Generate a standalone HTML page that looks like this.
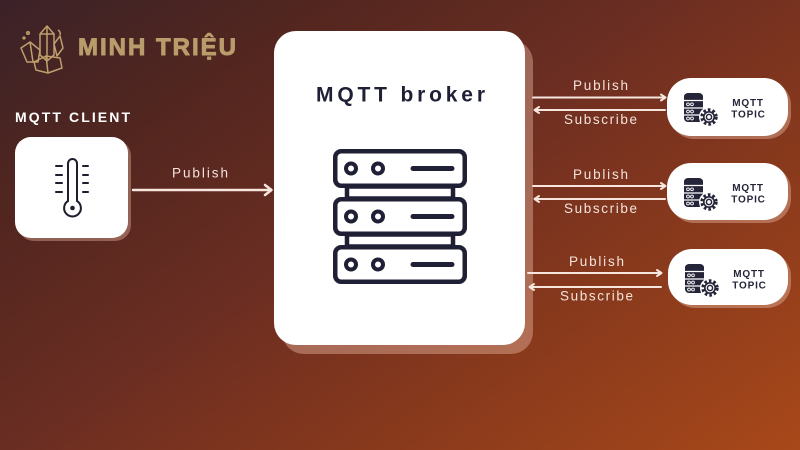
<!DOCTYPE html>
<html>
<head>
<meta charset="utf-8">
<style>
  html,body{margin:0;padding:0;}
  body{width:800px;height:450px;overflow:hidden;
    background:linear-gradient(145deg,#3b2228 0%,#52261f 22%,#6a2d22 45%,#78321f 56%,#8a3a1c 72%,#a8481a 100%);}
  svg{position:absolute;left:0;top:0;}
  text{font-family:"Liberation Sans",sans-serif;}
</style>
</head>
<body>
<svg width="800" height="450" viewBox="0 0 800 450" xmlns="http://www.w3.org/2000/svg">
  <!-- Logo -->
  <g fill="none" stroke="#bf9f6c" stroke-width="1.5" stroke-linejoin="round">
    <polygon points="40,34 47,26 54,34 54,55 47,61 40,55"/>
    <line x1="47" y1="26" x2="47" y2="61"/>
    <line x1="40" y1="34" x2="54" y2="34"/>
    <polygon points="21,48 30,42 40,50 38,62 27,62"/>
    <line x1="30" y1="42" x2="33" y2="62"/>
    <polygon points="34,62 46,56 60,58 62,68 48,73 36,70"/>
    <line x1="46" y1="56" x2="48" y2="73"/>
    <polygon points="54,44 60,36 63,48 57,56"/>
    <circle cx="28" cy="33" r="1.3"/>
    <circle cx="24" cy="38" r="0.9"/>
    <path d="M58,30 q3,2 2,5"/>
  </g>
  <text x="78" y="55" font-size="24" font-weight="bold" fill="#b99c6b" stroke="#b99c6b" stroke-width="0.9" stroke-linejoin="round" textLength="158" lengthAdjust="spacing">MINH TRIỆU</text>

  <!-- MQTT CLIENT -->
  <text x="15" y="122" font-size="14" font-weight="bold" fill="#ffffff" textLength="115" lengthAdjust="spacing">MQTT CLIENT</text>

  <!-- Client box -->
  <rect x="18" y="140" width="113" height="101" rx="16" fill="rgba(235,185,165,0.4)"/>
  <rect x="15" y="137" width="113" height="101" rx="16" fill="#ffffff"/>
  <g stroke="#1e1e2e" stroke-width="2" fill="none" stroke-linecap="round">
    <path d="M68,201 L68,163.5 A4.5,4.5 0 0 1 77,163.5 L77,201 A8.4,8.4 0 1 1 68,201 Z"/>
    <line x1="56" y1="166" x2="62" y2="166"/>
    <line x1="56" y1="175" x2="62" y2="175"/>
    <line x1="56" y1="183" x2="62" y2="183"/>
    <line x1="56" y1="192" x2="62" y2="192"/>
    <line x1="83" y1="166" x2="88" y2="166"/>
    <line x1="83" y1="175" x2="88" y2="175"/>
    <line x1="83" y1="183" x2="88" y2="183"/>
    <line x1="83" y1="192" x2="88" y2="192"/>
  </g>
  <circle cx="72.5" cy="208" r="2.3" fill="#1e1e2e"/>

  <!-- Left publish arrow -->
  <text x="172" y="177.5" font-size="13.5" fill="#f5e3db" textLength="56" lengthAdjust="spacing">Publish</text>
  <g stroke="#f7e6de" stroke-width="2.5" fill="none" stroke-linecap="round" stroke-linejoin="round">
    <line x1="133" y1="190" x2="271" y2="190"/>
    <polyline points="265,185 271.5,190 265,195"/>
  </g>

  <!-- Broker -->
  <rect x="282" y="40" width="251" height="314" rx="22" fill="rgba(235,185,165,0.42)"/>
  <rect x="274" y="31" width="251" height="314" rx="22" fill="#ffffff"/>
  <text x="316" y="101.5" font-size="21" font-weight="bold" fill="#1f2035" textLength="169" lengthAdjust="spacing">MQTT broker</text>

  <g stroke="#1f2035" stroke-width="4.5" fill="none" stroke-linecap="round">
    <rect x="347" y="186.5" width="106" height="12"/>
    <rect x="347" y="234.5" width="106" height="12"/>
    <rect x="335.25" y="151.25" width="129.5" height="34.5" rx="6" fill="#fff"/>
    <rect x="335.25" y="199.25" width="129.5" height="34.5" rx="6" fill="#fff"/>
    <rect x="335.25" y="247.25" width="129.5" height="34.5" rx="6" fill="#fff"/>
    <g stroke-width="4">
      <circle cx="351" cy="168.5" r="5"/>
      <circle cx="378" cy="168.5" r="5"/>
      <circle cx="351" cy="216.5" r="5"/>
      <circle cx="378" cy="216.5" r="5"/>
      <circle cx="351" cy="264.5" r="5"/>
      <circle cx="378" cy="264.5" r="5"/>
    </g>
    <g stroke-width="5">
      <line x1="413" y1="168.5" x2="452" y2="168.5"/>
      <line x1="413" y1="216.5" x2="452" y2="216.5"/>
      <line x1="413" y1="264.5" x2="452" y2="264.5"/>
    </g>
  </g>

  <!-- Right arrows -->
  <g fill="#f5e3db" font-size="13.5">
    <text x="573" y="90" textLength="55" lengthAdjust="spacing">Publish</text>
    <text x="564" y="124" textLength="73" lengthAdjust="spacing">Subscribe</text>
    <text x="573" y="179" textLength="55" lengthAdjust="spacing">Publish</text>
    <text x="564" y="213" textLength="73" lengthAdjust="spacing">Subscribe</text>
    <text x="569" y="266" textLength="55" lengthAdjust="spacing">Publish</text>
    <text x="560" y="300.5" textLength="73" lengthAdjust="spacing">Subscribe</text>
  </g>
  <g stroke="#f7e6de" stroke-width="2" fill="none" stroke-linecap="round" stroke-linejoin="round">
    <line x1="533" y1="97.5" x2="665" y2="97.5"/>
    <polyline points="661,94.5 665.5,97.5 661,100.5"/>
    <line x1="535" y1="110" x2="665" y2="110"/>
    <polyline points="539,107 534.5,110 539,113"/>

    <line x1="533" y1="186" x2="665" y2="186"/>
    <polyline points="661,183 665.5,186 661,189"/>
    <line x1="535" y1="199" x2="665" y2="199"/>
    <polyline points="539,196 534.5,199 539,202"/>

    <line x1="528" y1="273" x2="661" y2="273"/>
    <polyline points="657,270 661.5,273 657,276"/>
    <line x1="530" y1="287" x2="661" y2="287"/>
    <polyline points="534,284 529.5,287 534,290"/>
  </g>

  <!-- Topic template -->
  <defs>
    <g id="topicicon">
      <rect x="684" y="93" width="19" height="29" rx="4" fill="#25253a"/>
      <ellipse cx="693.5" cy="96" rx="9.5" ry="3" fill="#25253a"/>
      <g stroke="#ffffff" stroke-width="1.2">
        <line x1="684" y1="100.5" x2="703" y2="100.5"/>
        <line x1="684" y1="108" x2="703" y2="108"/>
        <line x1="684" y1="115" x2="703" y2="115"/>
      </g>
      <g stroke="#ffffff" stroke-width="0.9" fill="none">
        <circle cx="688" cy="104.3" r="1.4"/>
        <circle cx="692" cy="104.3" r="1.4"/>
        <circle cx="688" cy="111.5" r="1.4"/>
        <circle cx="692" cy="111.5" r="1.4"/>
        <circle cx="688" cy="118.5" r="1.4"/>
        <circle cx="692" cy="118.5" r="1.4"/>
      </g>
      <circle cx="709" cy="117" r="10" fill="#ffffff"/>
      <circle cx="709" cy="117" r="7.2" fill="none" stroke="#25253a" stroke-width="3" stroke-dasharray="2.6 2.05"/>
      <circle cx="709" cy="117" r="6" fill="#25253a"/>
      <circle cx="709" cy="117" r="4.4" fill="#ffffff"/>
      <circle cx="709" cy="117" r="2.6" fill="none" stroke="#25253a" stroke-width="1.5"/>
    </g>
  </defs>

  <!-- Topic 1 -->
  <rect x="670" y="81" width="121" height="58" rx="24" fill="rgba(235,185,165,0.42)"/>
  <rect x="667" y="78" width="121" height="58" rx="24" fill="#ffffff"/>
  <use href="#topicicon"/>
  <text x="748" y="106" font-size="10" font-weight="bold" fill="#25253a" text-anchor="middle" letter-spacing="0.8">MQTT</text>
  <text x="748.5" y="117.5" font-size="10" font-weight="bold" fill="#25253a" text-anchor="middle" letter-spacing="0.8">TOPIC</text>

  <!-- Topic 2 -->
  <rect x="670" y="166" width="121" height="57" rx="24" fill="rgba(235,185,165,0.42)"/>
  <rect x="667" y="163" width="121" height="57" rx="24" fill="#ffffff"/>
  <use href="#topicicon" transform="translate(0,85)"/>
  <text x="748" y="191" font-size="10" font-weight="bold" fill="#25253a" text-anchor="middle" letter-spacing="0.8">MQTT</text>
  <text x="748.5" y="202.5" font-size="10" font-weight="bold" fill="#25253a" text-anchor="middle" letter-spacing="0.8">TOPIC</text>

  <!-- Topic 3 -->
  <rect x="671" y="252" width="120" height="56" rx="24" fill="rgba(235,185,165,0.42)"/>
  <rect x="668" y="249" width="120" height="56" rx="24" fill="#ffffff"/>
  <use href="#topicicon" transform="translate(1,171)"/>
  <text x="749" y="277" font-size="10" font-weight="bold" fill="#25253a" text-anchor="middle" letter-spacing="0.8">MQTT</text>
  <text x="749.5" y="288.5" font-size="10" font-weight="bold" fill="#25253a" text-anchor="middle" letter-spacing="0.8">TOPIC</text>
</svg>
</body>
</html>
